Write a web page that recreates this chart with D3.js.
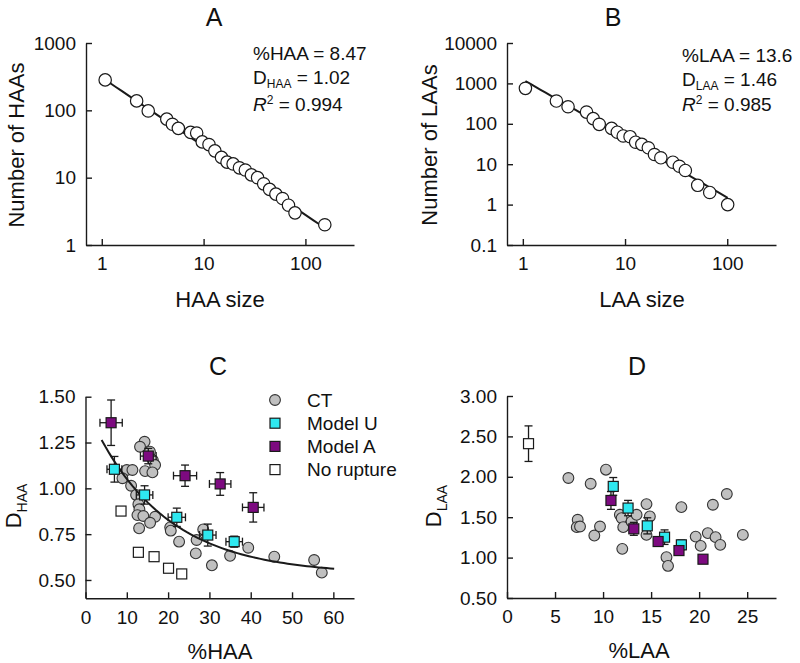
<!DOCTYPE html>
<html><head><meta charset="utf-8">
<script src="https://cdn.jsdelivr.net/npm/d3@7"></script>
<style>
body{margin:0;background:#fff;}
svg{display:block;font-family:"Liberation Sans",Arial,Helvetica,sans-serif;}
</style></head><body>
<svg id="chart" width="800" height="663"></svg>
<script>
// ---------- Panel A: HAA size distribution ----------
const haaSize  = [1.08,2.2,2.86,4.35,4.94,5.65,7.46,8.55,9.7,11.3,12.9,15,17,19.5,22.5,25.7,29.5,33.9,38.9,44.5,51.3,59.6,68.2,79,155];
const haaCount = [283,138,98,74,62,54,47,46,34,31,25,20,17,16,14,13,11,10,8.1,6.7,5.7,4.9,3.9,3.0,2.0];
const fitA = [307, -1.02];          // coefficient, exponent
const annotA = ["%HAA = 8.47", "1.02", "0.994"];

// ---------- Panel B: LAA size distribution ----------
const laaSize  = [1.06,2.13,2.77,4.2,4.88,5.59,7.39,8.4,9.6,11.2,12.7,14.6,16.9,19.4,22.4,29.4,34,38.9,51.4,67.4,101];
const laaCount = [755,366,264,195,134,97,77,62,50,48,35,31,25.5,17.4,14.4,11.2,8.9,7,3,2,1];
const fitB = [1245, -1.46];
const annotB = ["%LAA = 13.6", "1.46", "0.985"];

// ---------- Panel C: D_HAA vs %HAA ----------
const ctHAA  = [14.3,13.2,15.6,16.3,16.85,14.43,16.2,10.0,11.36,8.94,11.04,12.25,12.8,13.05,12.57,14.0,16.85,15.64,12.98,20.5,20.65,22.66,26.9,28.5,26.7,30.6,35.0,39.4,45.7,55.35,57.2];
const ctDHAA = [1.254,1.227,1.2,1.154,1.127,1.094,1.087,1.10,1.10,1.055,1.014,0.964,0.913,0.886,0.854,0.849,0.845,0.812,0.782,0.787,0.769,0.709,0.718,0.776,0.645,0.58,0.632,0.676,0.627,0.609,0.54];
const uHAA   = [7.0,14.3,22.1,29.6,36.0];
const uDHAA  = [1.104,0.964,0.842,0.745,0.709];
const uHAAerrX = [1.8,2.0,2.1,2.0,2.0];
const uHAAerrY = [0.07,0.05,0.05,0.06,0.03];
const aHAA   = [6.2,15.2,24.1,32.6,40.6];
const aDHAA  = [1.358,1.176,1.069,1.024,0.896];
const aHAAerrX = [2.7,1.9,2.8,2.6,2.6];
const aHAAerrY = [0.124,0.042,0.058,0.062,0.08];
const nrHAA  = [8.6,12.8,16.6,20.1,23.3];
const nrDHAA = [0.876,0.651,0.627,0.564,0.533];
const fitC = [0.53, 0.913, 0.056];  // offset, amplitude, rate
const fitCRange = [3.9, 60.2];

// ---------- Panel D: D_LAA vs %LAA ----------
const ctLAA  = [6.39,8.71,10.3,7.36,7.26,7.6,9.09,9.68,11.75,11.93,12.1,12.0,12.97,13.49,14.52,14.87,14.52,16.6,16.76,18.15,19.64,20.16,20.9,21.43,21.71,22.2,22.88,24.55];
const ctDLAA = [1.985,1.914,2.088,1.468,1.377,1.385,1.273,1.385,1.53,1.489,1.377,1.108,1.447,1.53,1.662,1.509,1.281,1.005,0.897,1.625,1.26,1.145,1.303,1.654,1.253,1.158,1.787,1.281];
const uLAA   = [11.06,12.6,14.6,16.4,18.15];
const uDLAA  = [1.881,1.613,1.393,1.253,1.158];
const uLAAerrY = [0.11,0.095,0.1,0.09,0.06];
const aLAA   = [10.82,13.2,15.73,17.9,20.4];
const aDLAA  = [1.707,1.356,1.199,1.087,0.98];
const aLAAerrY = [0.11,0.08,0.03,0.03,0.02];
const nrLAA  = [2.24];
const nrDLAA = [2.41];
const nrLAAerrY = [0.22];

const legendLabels = ["CT","Model U","Model A","No rupture"];

// tick labels
const logTicksA = [1,10,100];
const logTicksAy = [1,10,100,1000];
const logTicksBy = [0.1,1,10,100,1000,10000];
const ticksCx = [0,10,20,30,40,50,60];
const ticksCy = [0.5,0.75,1.0,1.25,1.5];
const ticksDx = [0,5,10,15,20,25];
const ticksDy = [0.5,1.0,1.5,2.0,2.5,3.0];

// ---------- drawing ----------
const svg = d3.select("#chart");
const INK = "#1a1a1a";
const GRAY = "#c0c0c0", CYAN = "#2ee8f0", PURPLE = "#7d0a80";

function styleAxis(g){
  g.selectAll(".domain").attr("stroke", INK).attr("stroke-width", 1.4);
  g.selectAll(".tick line").attr("stroke", INK).attr("stroke-width", 1.4);
  g.selectAll(".tick text").attr("fill", "#111").attr("font-size", 19);
}

function axes(x, y, xt, yt, xf, yf){
  const gx = svg.append("g").attr("transform", `translate(0,${y.range()[0]})`)
    .call(d3.axisBottom(x).tickValues(xt).tickFormat(xf).tickSizeInner(-6).tickSizeOuter(0).tickPadding(12));
  const gy = svg.append("g").attr("transform", `translate(${x.range()[0]},0)`)
    .call(d3.axisLeft(y).tickValues(yt).tickFormat(yf).tickSizeInner(-6).tickSizeOuter(0).tickPadding(10));
  gx.attr("font-family", null); gy.attr("font-family", null);
  styleAxis(gx); styleAxis(gy);
}

function title(txt, x, y){
  svg.append("text").attr("x", x).attr("y", y).attr("text-anchor","middle")
    .attr("font-size", 25).attr("fill", "#111").text(txt);
}
function xlabel(txt, x, y){
  svg.append("text").attr("x", x).attr("y", y).attr("text-anchor","middle")
    .attr("font-size", 22).attr("fill", "#111").text(txt);
}
function ylabel(txt, x, y){
  svg.append("text").attr("transform", `translate(${x},${y}) rotate(-90)`)
    .attr("text-anchor","middle").attr("font-size", 22).attr("fill", "#111").text(txt);
}
function ylabelSub(main, sub, x, y){
  const t = svg.append("text").attr("transform", `translate(${x},${y}) rotate(-90)`)
    .attr("text-anchor","middle").attr("font-size", 22).attr("fill", "#111");
  t.append("tspan").text(main);
  t.append("tspan").attr("font-size", 14).attr("dy", 6).text(sub);
}
function annot(lines, sub, x, ys){
  const fs = 19;
  svg.append("text").attr("x", x).attr("y", ys[0]).attr("font-size", fs).attr("fill","#111").text(lines[0]);
  const t2 = svg.append("text").attr("x", x).attr("y", ys[1]).attr("font-size", fs).attr("fill","#111");
  t2.append("tspan").text("D");
  t2.append("tspan").attr("font-size", 12).attr("dy", 4).text(sub);
  t2.append("tspan").attr("dy", -4).text(" = " + lines[1]);
  const t3 = svg.append("text").attr("x", x).attr("y", ys[2]).attr("font-size", fs).attr("fill","#111");
  t3.append("tspan").attr("font-style","italic").text("R");
  t3.append("tspan").attr("font-size", 12).attr("dy", -7).text("2");
  t3.append("tspan").attr("dy", 7).text(" = " + lines[2]);
}

const logFmt = d => String(d);
const fmt2 = d3.format(".2f");

// ===== Panel A =====
{
  const x = d3.scaleLog().domain([0.7, 300]).range([86, 354]);
  const y = d3.scaleLog().domain([1, 1000]).range([245, 43]);
  axes(x, y, logTicksA, logTicksAy, logFmt, logFmt);
  const xs = [haaSize[0], haaSize[haaSize.length-1]];
  svg.append("path").datum(d3.range(0, 41).map(i => xs[0]*Math.pow(xs[1]/xs[0], i/40)))
    .attr("fill","none").attr("stroke", INK).attr("stroke-width", 2)
    .attr("d", d3.line().x(d => x(d)).y(d => y(fitA[0]*Math.pow(d, fitA[1]))));
  svg.append("g").selectAll("circle").data(haaSize).join("circle")
    .attr("cx", d => x(d)).attr("cy", (d,i) => y(haaCount[i])).attr("r", 6.2)
    .attr("fill","#fff").attr("stroke", INK).attr("stroke-width", 1.2);
  title("A", 214, 26);
  xlabel("HAA size", 220, 307);
  ylabel("Number of HAAs", 24, 145);
  annot(annotA, "HAA", 253, [60, 84, 111]);
}

// ===== Panel B =====
{
  const x = d3.scaleLog().domain([0.7, 300]).range([507, 776]);
  const y = d3.scaleLog().domain([0.1, 10000]).range([245, 43]);
  axes(x, y, logTicksA, logTicksBy, logFmt, logFmt);
  const xs = [laaSize[0], laaSize[laaSize.length-1]];
  svg.append("path").datum(d3.range(0, 41).map(i => xs[0]*Math.pow(xs[1]/xs[0], i/40)))
    .attr("fill","none").attr("stroke", INK).attr("stroke-width", 2)
    .attr("d", d3.line().x(d => x(d)).y(d => y(fitB[0]*Math.pow(d, fitB[1]))));
  svg.append("g").selectAll("circle").data(laaSize).join("circle")
    .attr("cx", d => x(d)).attr("cy", (d,i) => y(laaCount[i])).attr("r", 6.2)
    .attr("fill","#fff").attr("stroke", INK).attr("stroke-width", 1.2);
  title("B", 613, 26);
  xlabel("LAA size", 642, 307);
  ylabel("Number of LAAs", 437, 145);
  annot(annotB, "LAA", 682, [62, 86, 111]);
}

function errBars(g, x, y, xv, yv, ex, ey){
  const cap = 4;
  xv.forEach((v, i) => {
    const cx = x(v), cy = y(yv[i]);
    if (ey) {
      const t = y(yv[i] + ey[i]), b = y(yv[i] - ey[i]);
      g.append("line").attr("x1",cx).attr("x2",cx).attr("y1",t).attr("y2",b);
      g.append("line").attr("x1",cx-cap).attr("x2",cx+cap).attr("y1",t).attr("y2",t);
      g.append("line").attr("x1",cx-cap).attr("x2",cx+cap).attr("y1",b).attr("y2",b);
    }
    if (ex) {
      const l = x(v - ex[i]), r = x(v + ex[i]);
      g.append("line").attr("x1",l).attr("x2",r).attr("y1",cy).attr("y2",cy);
      g.append("line").attr("x1",l).attr("x2",l).attr("y1",cy-cap).attr("y2",cy+cap);
      g.append("line").attr("x1",r).attr("x2",r).attr("y1",cy-cap).attr("y2",cy+cap);
    }
  });
  g.attr("stroke", INK).attr("stroke-width", 1.3);
}
function squares(x, y, xv, yv, fill){
  const s = 10;
  svg.append("g").selectAll("rect").data(xv).join("rect")
    .attr("x", d => x(d) - s/2).attr("y", (d,i) => y(yv[i]) - s/2)
    .attr("width", s).attr("height", s)
    .attr("fill", fill).attr("stroke", INK).attr("stroke-width", 1.2);
}
function grayDots(x, y, xv, yv){
  svg.append("g").selectAll("circle").data(xv).join("circle")
    .attr("cx", d => x(d)).attr("cy", (d,i) => y(yv[i])).attr("r", 5.4)
    .attr("fill", GRAY).attr("stroke", "#333").attr("stroke-width", 1.1);
}

// ===== Panel C =====
{
  const x = d3.scaleLinear().domain([0, 65]).range([85.5, 354]);
  const y = d3.scaleLinear().domain([0.4, 1.5]).range([598.3, 396.7]);
  axes(x, y, ticksCx, ticksCy, d3.format("d"), fmt2);
  grayDots(x, y, ctHAA, ctDHAA);
  squares(x, y, nrHAA, nrDHAA, "#fff");
  svg.append("path").datum(d3.range(0, 61).map(i => fitCRange[0] + (fitCRange[1]-fitCRange[0])*i/60))
    .attr("fill","none").attr("stroke", INK).attr("stroke-width", 2)
    .attr("d", d3.line().x(d => x(d)).y(d => y(fitC[0] + fitC[1]*Math.exp(-fitC[2]*d))));
  errBars(svg.append("g"), x, y, uHAA, uDHAA, uHAAerrX, uHAAerrY);
  squares(x, y, uHAA, uDHAA, CYAN);
  errBars(svg.append("g"), x, y, aHAA, aDHAA, aHAAerrX, aHAAerrY);
  squares(x, y, aHAA, aDHAA, PURPLE);
  title("C", 218, 375);
  xlabel("%HAA", 220, 659);
  ylabelSub("D", "HAA", 21, 506);
  // legend
  const lg = svg.append("g");
  const fills = [GRAY, CYAN, PURPLE, "#fff"];
  legendLabels.forEach((lab, i) => {
    const cy = 400 + i*23.2;
    if (i === 0) lg.append("circle").attr("cx", 275).attr("cy", cy).attr("r", 5.4)
      .attr("fill", GRAY).attr("stroke", "#333").attr("stroke-width", 1.1);
    else lg.append("rect").attr("x", 270).attr("y", cy-5).attr("width", 10).attr("height", 10)
      .attr("fill", fills[i]).attr("stroke", INK).attr("stroke-width", 1.2);
    lg.append("text").attr("x", 307).attr("y", cy).attr("dy", "0.36em")
      .attr("font-size", 19).attr("fill", "#111").text(lab);
  });
}

// ===== Panel D =====
{
  const x = d3.scaleLinear().domain([0, 28]).range([507, 776]);
  const y = d3.scaleLinear().domain([0.5, 3.0]).range([598, 396]);
  axes(x, y, ticksDx, ticksDy, d3.format("d"), fmt2);
  errBars(svg.append("g"), x, y, nrLAA, nrDLAA, null, nrLAAerrY);
  squares(x, y, nrLAA, nrDLAA, "#fff");
  grayDots(x, y, ctLAA, ctDLAA);
  errBars(svg.append("g"), x, y, uLAA, uDLAA, null, uLAAerrY);
  squares(x, y, uLAA, uDLAA, CYAN);
  errBars(svg.append("g"), x, y, aLAA, aDLAA, null, aLAAerrY);
  squares(x, y, aLAA, aDLAA, PURPLE);
  title("D", 637, 375);
  xlabel("%LAA", 639, 658);
  ylabelSub("D", "LAA", 441, 506);
}
</script>
</body></html>
